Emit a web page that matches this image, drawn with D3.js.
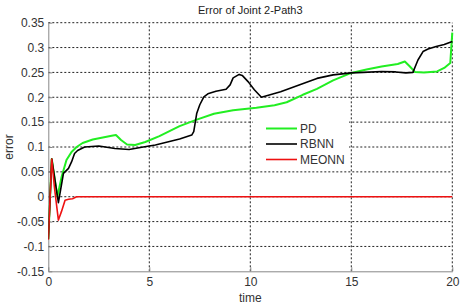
<!DOCTYPE html>
<html><head><meta charset="utf-8">
<script src="https://cdn.jsdelivr.net/npm/d3@7"></script>
<style>
html,body{margin:0;padding:0;background:#fff;}
svg{display:block;font-family:Arial,"Liberation Sans",sans-serif;}
</style></head>
<body>
<svg id="chart" width="476" height="305"></svg>
<script>
const title = "Error of Joint 2-Path3";
const xLabel = "time";
const yLabel = "error";
const seriesNames = ["PD", "RBNN", "MEONN"];
const seriesColors = ["#22ee22", "#000000", "#ee1111"];
const xTicks = [0, 5, 10, 15, 20];
const yTicks = [-0.15, -0.1, -0.05, 0, 0.05, 0.1, 0.15, 0.2, 0.25, 0.3, 0.35];
const yTickLabels = ["-0.15", "-0.1", "-0.05", "0", "0.05", "0.1", "0.15", "0.2", "0.25", "0.3", "0.35"];

const pdT = [0, 0.17, 0.45, 0.66, 0.9, 1.15, 1.4, 1.7, 2.2, 2.7, 3.2, 3.35, 3.6, 3.9, 4.3, 4.8, 5.5, 6.5, 7.35, 8.2, 9.15, 10.3, 11.2, 11.8, 12.6, 13.3, 14.1, 15.0, 15.75, 16.5, 17.3, 17.65, 17.9, 18.15, 18.6, 19.25, 19.6, 19.9, 19.95, 20];
const pdV = [-0.085, 0.076, 0.0, 0.04, 0.074, 0.09, 0.1, 0.108, 0.115, 0.119, 0.123, 0.124, 0.114, 0.105, 0.104, 0.11, 0.122, 0.142, 0.155, 0.167, 0.174, 0.179, 0.184, 0.19, 0.205, 0.217, 0.234, 0.249, 0.256, 0.262, 0.267, 0.272, 0.262, 0.251, 0.25, 0.252, 0.259, 0.269, 0.3, 0.33];

const rbT = [0, 0.17, 0.5, 0.75, 1.0, 1.15, 1.3, 1.45, 1.8, 2.5, 3.3, 4.0, 4.7, 5.3, 5.9, 6.5, 7.1, 7.2, 7.35, 7.5, 7.7, 7.9, 8.3, 8.8, 9.0, 9.15, 9.45, 9.6, 9.9, 10.2, 10.55, 11.5, 12.45, 13.3, 14.1, 15.0, 15.6, 16.5, 17.2, 17.7, 18.05, 18.3, 18.55, 18.8, 19.2, 19.6, 20];
const rbV = [-0.085, 0.076, -0.012, 0.047, 0.057, 0.07, 0.087, 0.093, 0.1, 0.102, 0.097, 0.095, 0.1, 0.104, 0.11, 0.116, 0.124, 0.131, 0.168, 0.185, 0.201, 0.207, 0.212, 0.216, 0.225, 0.239, 0.246, 0.244, 0.231, 0.215, 0.2, 0.211, 0.225, 0.238, 0.245, 0.249, 0.25, 0.252, 0.251, 0.249, 0.25, 0.275, 0.292, 0.297, 0.302, 0.306, 0.312];

const meT = [0, 0.17, 0.3, 0.5, 0.65, 0.83, 1.0, 1.2, 1.4, 1.6, 20];
const meV = [-0.087, 0.076, 0.02, -0.047, -0.03, -0.007, -0.005, -0.004, 0, 0, 0];

const svg = d3.select("#chart");
const W = 476, H = 305;
const m = {left: 48.3, right: W - 452.3, top: 22.7, bottom: H - 271.3};
const x = d3.scaleLinear().domain([0, 20]).range([m.left, W - m.right]);
const y = d3.scaleLinear().domain([-0.15, 0.35]).range([H - m.bottom, m.top]);

svg.append("rect").attr("width", W).attr("height", H).attr("fill", "#fff");

// grid
const grid = svg.append("g").attr("stroke", "#222").attr("stroke-width", 1).attr("stroke-dasharray", "2,2");
grid.selectAll("line.gx").data(xTicks.filter(d => d > 0)).join("line")
  .attr("x1", d => x(d)).attr("x2", d => x(d)).attr("y1", y(-0.15)).attr("y2", y(0.35));
grid.selectAll("line.gy").data(yTicks.filter(d => d > -0.15)).join("line")
  .attr("x1", x(0)).attr("x2", x(20)).attr("y1", d => y(d)).attr("y2", d => y(d));

// axes
const xAxis = d3.axisBottom(x).tickValues(xTicks).tickFormat(d3.format("d")).tickSizeInner(-4).tickSizeOuter(0).tickPadding(6);
const yAxis = d3.axisLeft(y).tickValues(yTicks).tickFormat((d, i) => yTickLabels[i]).tickSizeInner(-4).tickSizeOuter(0).tickPadding(4);
const gx = svg.append("g").attr("transform", `translate(0,${y(-0.15)})`).call(xAxis);
const gy = svg.append("g").attr("transform", `translate(${x(0)},0)`).call(yAxis);
[gx, gy].forEach(g => {
  g.select(".domain").attr("stroke", "#888");
  g.selectAll(".tick line").attr("stroke", "#888");
  g.selectAll(".tick text").attr("fill", "#333").attr("font-size", 12).attr("font-family", "Arial, 'Liberation Sans', sans-serif");
});

// clip
svg.append("clipPath").attr("id", "clip").append("rect")
  .attr("x", x(0)).attr("y", y(0.35) - 2).attr("width", x(20) - x(0) + 2).attr("height", y(-0.15) - y(0.35) + 2);

const line = d3.line().x(d => x(d[0])).y(d => y(d[1]));
const series = [
  {name: seriesNames[0], color: seriesColors[0], t: pdT, v: pdV, w: 2},
  {name: seriesNames[1], color: seriesColors[1], t: rbT, v: rbV, w: 1.6},
  {name: seriesNames[2], color: seriesColors[2], t: meT, v: meV, w: 1.6}
];
const lines = svg.append("g").attr("clip-path", "url(#clip)");
series.forEach(s => {
  lines.append("path").datum(s.t.map((t, i) => [t, s.v[i]]))
    .attr("d", line).attr("fill", "none").attr("stroke", s.color)
    .attr("stroke-width", s.w).attr("stroke-linejoin", "round");
});

// legend
const lg = svg.append("g");
lg.append("rect").attr("x", 253).attr("y", 121).attr("width", 96).attr("height", 46).attr("fill", "#fff");
series.forEach((s, i) => {
  const yy = 128.5 + i * 15.5;
  lg.append("line").attr("x1", 266).attr("x2", 297).attr("y1", yy).attr("y2", yy)
    .attr("stroke", s.color).attr("stroke-width", s.w);
  lg.append("text").attr("x", 300).attr("y", yy).attr("dy", "0.36em")
    .attr("font-size", 12).attr("fill", "#333").text(s.name);
});

// labels
svg.append("text").attr("x", x(10)).attr("y", 14).attr("text-anchor", "middle")
  .attr("font-size", 11).attr("fill", "#222").text(title);
svg.append("text").attr("x", x(10)).attr("y", 302).attr("text-anchor", "middle")
  .attr("font-size", 12).attr("fill", "#333").text(xLabel);
svg.append("text").attr("transform", `translate(13,${y(0.1)}) rotate(-90)`).attr("text-anchor", "middle")
  .attr("font-size", 12).attr("fill", "#333").text(yLabel);
</script>
</body></html>
